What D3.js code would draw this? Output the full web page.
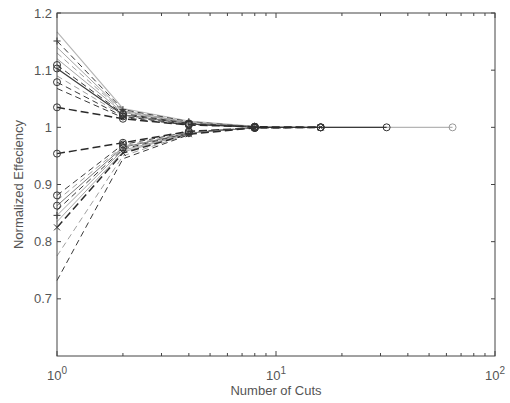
<!DOCTYPE html>
<html>
<head>
<meta charset="utf-8">
<script src="https://cdn.jsdelivr.net/npm/d3@7"></script>
<style>
  body { margin: 0; background: #fff; }
  text { font-family: "Liberation Sans", Arial, sans-serif; fill: #555; }
</style>
</head>
<body>
<svg id="chart" width="510" height="403"></svg>
<script>
// number of cuts (x) shared by every run
const cuts = [1, 2, 4, 8, 16, 32, 64];

// normalized efficiency per run, one value per cut (runs stop early)
const efficiency = [
  [1.167, 1.033, 1.011, 1.002, 1.000, 1.000, 1.000],
  [1.151, 1.031, 1.010, 1.001],
  [1.140, 1.029, 1.009, 1.001],
  [1.130, 1.028, 1.008],
  [1.120, 1.026, 1.008],
  [1.109, 1.024, 1.007, 1.001],
  [1.103, 1.022, 1.006, 1.000, 1.000, 1.000],
  [1.090, 1.021, 1.006],
  [1.079, 1.019, 1.005, 1.001],
  [1.068, 1.017, 1.004],
  [1.035, 1.015, 1.004, 1.001, 1.000],
  [0.954, 0.973, 0.993, 0.999, 1.000],
  [0.881, 0.970, 0.992, 0.999],
  [0.872, 0.967, 0.991],
  [0.863, 0.965, 0.990, 0.999],
  [0.855, 0.962, 0.990],
  [0.846, 0.960, 0.989],
  [0.835, 0.957, 0.989],
  [0.825, 0.955, 0.988, 0.999, 1.000],
  [0.775, 0.950, 0.988],
  [0.732, 0.945, 0.987]
];

// line style and marker per run
const runStyle = ["solidFaint", "dashDark", "solidLight", "dashLight", "solidLight", "dashDark", "solidDark",
  "dashLight", "dashDark", "dashDark", "dashBold", "dashBold", "dashDark", "dashLight", "solidMid",
  "dashDark", "solidLight", "solidLight", "dashBold", "dashLight", "dashDark"];
const runMarker = ["faintCircle", "plus", "none", "none", "none", "circle", "circle", "none", "circle", "none",
  "circle", "circle", "circle", "none", "circle", "none", "plus", "none", "cross", "none", "none"];

const yTicks = [0.7, 0.8, 0.9, 1.0, 1.1, 1.2];
const xMajor = [1, 10, 100];

const margin = {top: 13, right: 15, bottom: 47, left: 57};
const W = 510, H = 403;

const styles = {
  solidLight: {stroke: "#9a9a9a", dash: null, w: 0.9},
  solidMid:   {stroke: "#6a6a6a", dash: null, w: 0.9},
  solidDark:  {stroke: "#3a3a3a", dash: null, w: 1.2},
  solidFaint: {stroke: "#b5b5b5", dash: null, w: 1.1},
  dashLight:  {stroke: "#a0a0a0", dash: "6,4", w: 1},
  dashDark:   {stroke: "#3a3a3a", dash: "6,4", w: 1},
  dashBold:   {stroke: "#2a2a2a", dash: "8,4", w: 1.5}
};

const svg = d3.select("#chart");

const x = d3.scaleLog().domain([1, 100]).range([margin.left, W - margin.right]);
const y = d3.scaleLinear().domain([0.6, 1.2]).range([H - margin.bottom, margin.top]);

const line = d3.line().x(d => x(d.c)).y(d => y(d.v));

// runs (faint ones first so dark ones sit on top)
const order = d3.range(efficiency.length).sort((a, b) =>
  (runStyle[a] === "solidFaint" ? -1 : 0) - (runStyle[b] === "solidFaint" ? -1 : 0));
order.forEach(i => {
  const pts = efficiency[i].map((v, j) => ({c: cuts[j], v: v}));
  const st = styles[runStyle[i]];
  svg.append("path")
    .datum(pts)
    .attr("fill", "none")
    .attr("stroke", st.stroke)
    .attr("stroke-width", st.w)
    .attr("stroke-dasharray", st.dash)
    .attr("d", line);
});

// markers
efficiency.forEach((vals, i) => {
  const m = runMarker[i];
  if (m === "none") return;
  vals.forEach((v, j) => {
    const cx = x(cuts[j]), cy = y(v);
    if (m === "faintCircle") {
      if (j < 6) return;
      svg.append("circle").attr("cx", cx).attr("cy", cy).attr("r", 3.5)
        .attr("fill", "none").attr("stroke", "#999").attr("stroke-width", 1);
    } else if (m === "circle") {
      svg.append("circle").attr("cx", cx).attr("cy", cy).attr("r", 3.5)
        .attr("fill", "none").attr("stroke", "#333").attr("stroke-width", 1);
    } else if (m === "plus") {
      svg.append("path").attr("d", `M${cx - 3.5},${cy}H${cx + 3.5}M${cx},${cy - 3.5}V${cy + 3.5}`)
        .attr("stroke", "#333").attr("stroke-width", 1);
    } else {
      svg.append("path").attr("d", `M${cx - 3},${cy - 3}L${cx + 3},${cy + 3}M${cx - 3},${cy + 3}L${cx + 3},${cy - 3}`)
        .attr("stroke", "#333").attr("stroke-width", 1);
    }
  });
});

// box
const x0 = margin.left, x1 = W - margin.right, y0 = margin.top, y1 = H - margin.bottom;
svg.append("rect").attr("x", x0).attr("y", y0).attr("width", x1 - x0).attr("height", y1 - y0)
  .attr("fill", "none").attr("stroke", "#444").attr("stroke-width", 1);

// y ticks
const tk = 4;
yTicks.forEach(t => {
  const ty = y(t);
  svg.append("line").attr("x1", x0).attr("x2", x0 + tk).attr("y1", ty).attr("y2", ty).attr("stroke", "#444");
  svg.append("line").attr("x1", x1).attr("x2", x1 - tk).attr("y1", ty).attr("y2", ty).attr("stroke", "#444");
  svg.append("text").attr("x", x0 - 5).attr("y", ty).attr("dy", "0.35em")
    .attr("text-anchor", "end").attr("font-size", 13)
    .text(t === 1 ? "1" : d3.format(".1f")(t));
});

// x ticks (major + minor, log)
x.ticks().forEach(t => {
  const tx = x(t);
  const len = xMajor.includes(t) ? 5 : 3;
  svg.append("line").attr("x1", tx).attr("x2", tx).attr("y1", y1).attr("y2", y1 - len).attr("stroke", "#444");
  svg.append("line").attr("x1", tx).attr("x2", tx).attr("y1", y0).attr("y2", y0 + len).attr("stroke", "#444");
});
xMajor.forEach(t => {
  const lab = svg.append("text").attr("x", x(t)).attr("y", y1 + 24)
    .attr("text-anchor", "middle").attr("font-size", 13);
  lab.append("tspan").text("10");
  lab.append("tspan").attr("dy", -6).attr("font-size", 10).text(Math.round(Math.log10(t)));
});

// axis titles
svg.append("text").attr("x", (x0 + x1) / 2).attr("y", y1 + 39)
  .attr("text-anchor", "middle").attr("font-size", 13).text("Number of Cuts");
svg.append("text")
  .attr("transform", `translate(23,${(y0 + y1) / 2}) rotate(-90)`)
  .attr("text-anchor", "middle").attr("font-size", 13).text("Normalized Effeciency");
</script>
</body>
</html>
